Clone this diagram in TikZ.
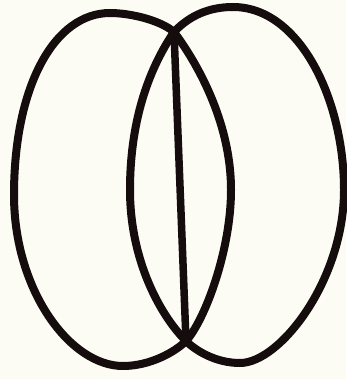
\documentclass[tikz,border=0pt]{standalone}
\usepackage{tikz}
\definecolor{paper}{HTML}{FCFBF4}
\definecolor{ink}{HTML}{150D0D}

\begin{document}
\begin{tikzpicture}[x=1pt, y=-1pt, line cap=round, line join=round]
  % ===== frame: keeps the page at the reference size =====
  \fill[paper] (0,0) rectangle (346,379);
  \useasboundingbox (0,0) rectangle (346,379);
  \tikzset{loop/.style={ink, line width=8pt}}
  % meeting points of the two loops
  \coordinate (T) at (174,32);
  \coordinate (B) at (186,341);
  % ===== left loop: outer arc, then inner arc back to the top =====
  \draw[loop] (T) .. controls (160,20) and (130,13) .. (110,13)
    .. controls (55,13) and (14,85) .. (14,195)
    .. controls (14,290) and (70,366) .. (123,366)
    .. controls (150,366) and (175,352) .. (B)
    .. controls (205,320) and (231,250) .. (231,190)
    .. controls (231,120) and (195,60) .. (T);
  % ===== right loop =====
  \draw[loop] (T) .. controls (190,15) and (210,7) .. (233,7)
    .. controls (300,7) and (344,100) .. (344,190)
    .. controls (344,280) and (280,363) .. (240,363)
    .. controls (215,363) and (195,350) .. (B)
    .. controls (160,315) and (130,260) .. (130,190)
    .. controls (130,110) and (155,60) .. (T);
  % ===== middle stroke =====
  \draw[ink, line width=7.5pt] (T) -- (B);
\end{tikzpicture}
\end{document}
